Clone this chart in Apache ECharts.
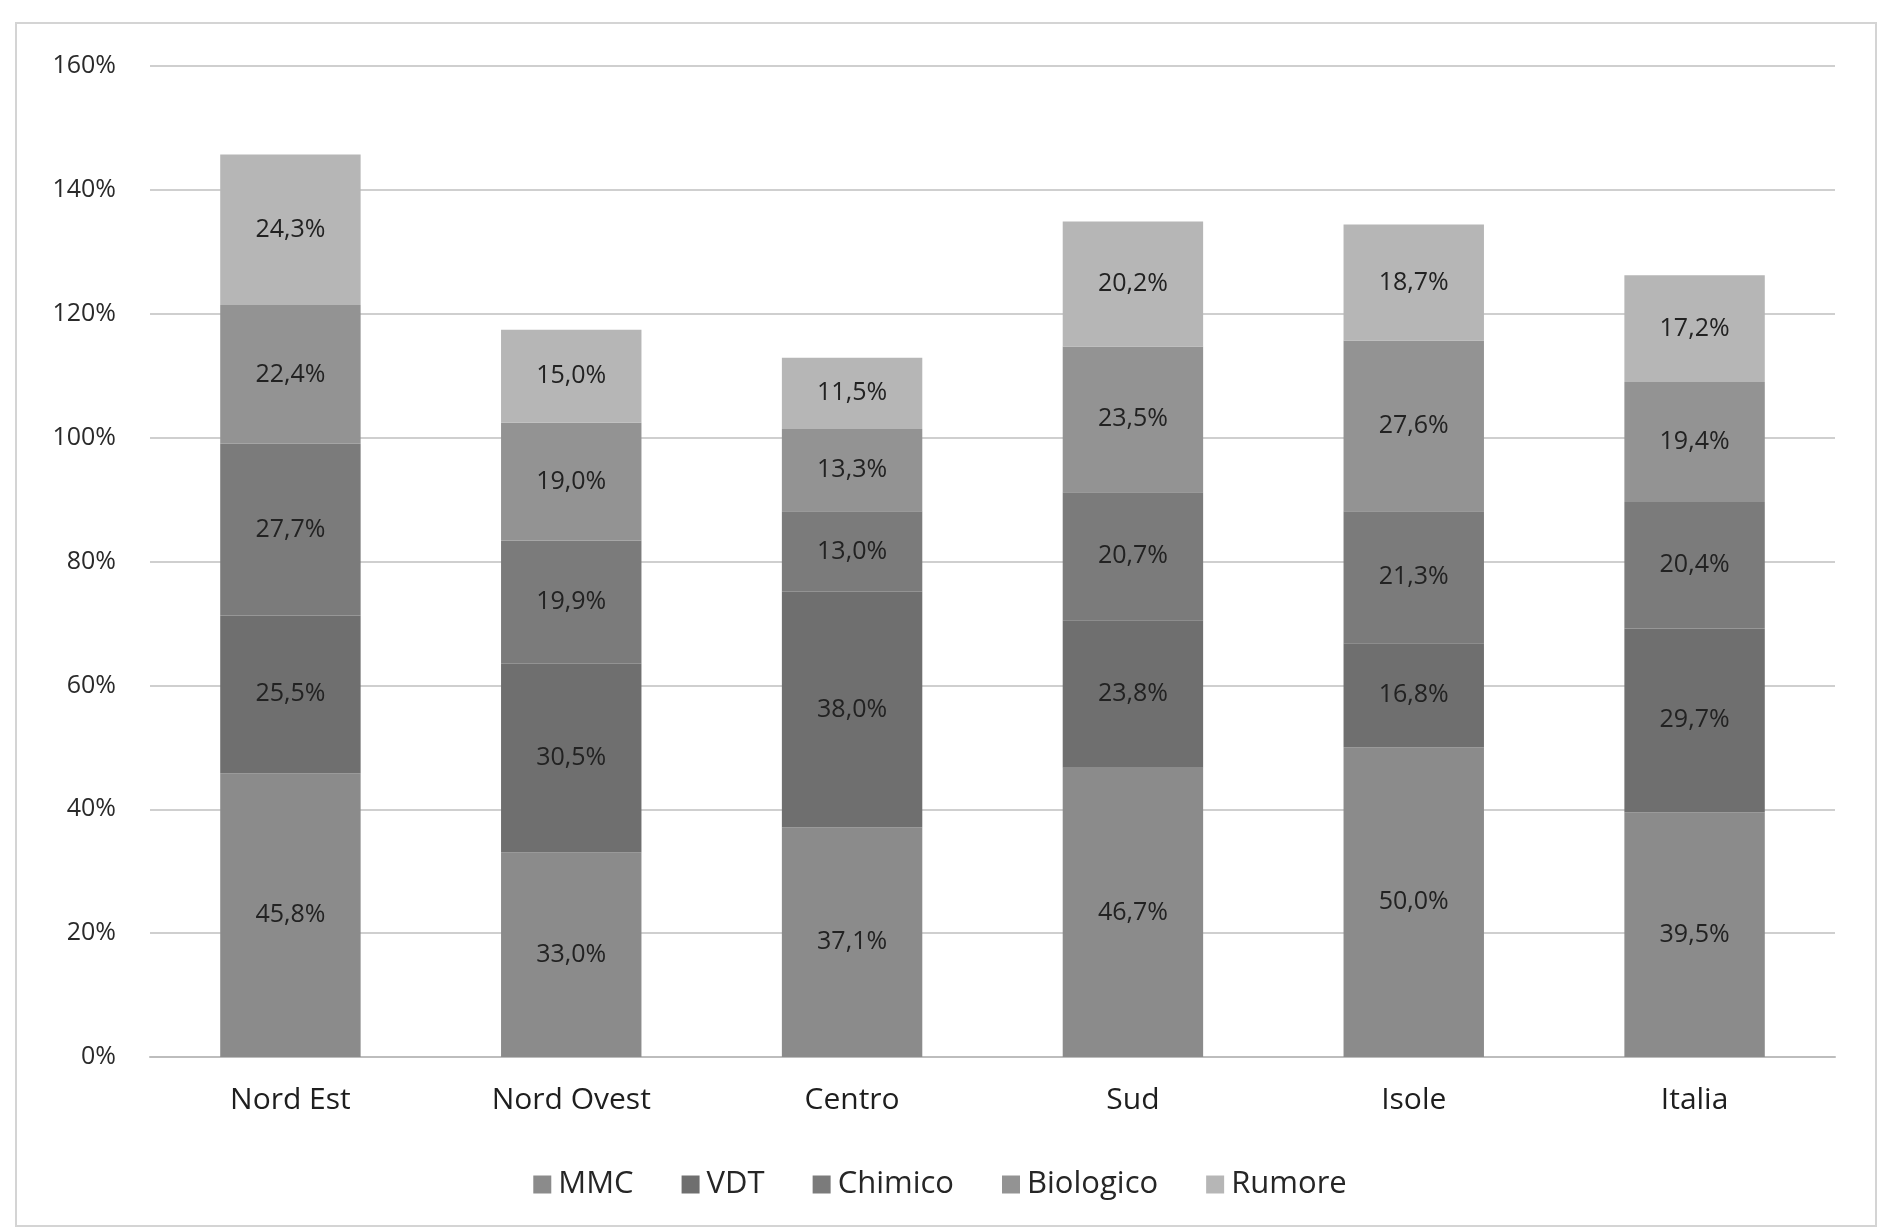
<!DOCTYPE html>
<html><head><meta charset="utf-8">
<script src="https://cdn.jsdelivr.net/npm/echarts@6/dist/echarts.min.js"></script>
<style>
html,body{margin:0;padding:0;background:#fff;}
#frame{position:absolute;left:15px;top:22px;width:1862px;height:1205px;border:2px solid #d4d4d4;box-sizing:border-box;}
#c{position:absolute;left:0;top:0;width:1880px;height:1231px;}
</style></head>
<body>
<div id="frame"></div>
<div id="c"></div>
<script>
const categories = ['Nord Est','Nord Ovest','Centro','Sud','Isole','Italia'];
const seriesNames = ['MMC','VDT','Chimico','Biologico','Rumore'];
const mmc = [45.8, 33.0, 37.1, 46.7, 50.0, 39.5];
const vdt = [25.5, 30.5, 38.0, 23.8, 16.8, 29.7];
const chimico = [27.7, 19.9, 13.0, 20.7, 21.3, 20.4];
const biologico = [22.4, 19.0, 13.3, 23.5, 27.6, 19.4];
const rumore = [24.3, 15.0, 11.5, 20.2, 18.7, 17.2];
const yTicks = [0, 20, 40, 60, 80, 100, 120, 140, 160];
const colors = ['#8b8b8b', '#6f6f6f', '#7b7b7b', '#939393', '#b6b6b6'];

const values = [mmc, vdt, chimico, biologico, rumore];
const chart = echarts.init(document.getElementById('c'));
const fontFam = '"Open Sans", Lato, sans-serif';
chart.setOption({
  animation: false,
  color: colors,
  textStyle: {fontFamily: fontFam},
  grid: {left: 150, right: 45, top: 66, bottom: 174},
  legend: {
    bottom: 26, left: 'center', itemWidth: 18, itemHeight: 18, itemGap: 48,
    icon: 'rect',
    textStyle: {fontSize: 31, color: '#262626', fontFamily: fontFam, padding: [0, 0, 0, 2]},
    data: seriesNames
  },
  xAxis: {
    type: 'category', data: categories,
    axisLine: {lineStyle: {color: '#bdbdbd', width: 2}},
    axisTick: {show: false},
    axisLabel: {fontSize: 30, color: '#1e1e1e', margin: 28, fontFamily: fontFam}
  },
  yAxis: {
    type: 'value', min: yTicks[0], max: yTicks[yTicks.length - 1], interval: 20,
    axisLine: {show: false}, axisTick: {show: false},
    splitLine: {lineStyle: {color: '#cfcfcf', width: 2}},
    axisLabel: {fontSize: 25, color: '#2a2a2a', margin: 34, formatter: v => v + '%', fontFamily: fontFam}
  },
  series: seriesNames.map((n, i) => ({
    name: n, type: 'bar', stack: 'tot', barWidth: '50%',
    data: values[i],
    itemStyle: {color: colors[i]},
    label: {
      show: true, position: 'inside', fontSize: 25, color: '#222', fontFamily: fontFam,
      formatter: p => p.value.toFixed(1).replace('.', ',') + '%'
    }
  }))
});
</script>
</body></html>
